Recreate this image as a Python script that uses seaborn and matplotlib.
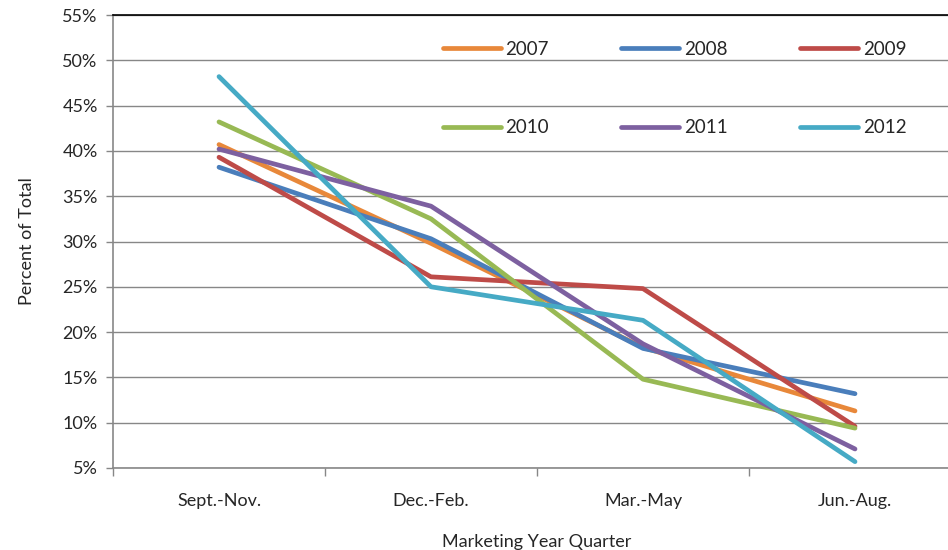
import pandas as pd
import matplotlib.pyplot as plt
import seaborn as sns
from matplotlib.ticker import FuncFormatter

# Quarter shares of marketing-year total (percent)
quarters = ["Sept.-Nov.", "Dec.-Feb.", "Mar.-May", "Jun.-Aug."]
years = ["2007", "2008", "2009", "2010", "2011", "2012"]
y2007 = [40.7, 29.8, 18.3, 11.3]
y2008 = [38.2, 30.3, 18.2, 13.2]
y2009 = [39.3, 26.1, 24.8, 9.6]
y2010 = [43.2, 32.5, 14.8, 9.4]
y2011 = [40.2, 33.9, 18.7, 7.1]
y2012 = [48.2, 25.0, 21.3, 5.7]
colors = ["#E8883A", "#4A7EBB", "#BE4B48", "#98B954", "#7D60A0", "#46AAC5"]

rows = []
for yr, vals in zip(years, [y2007, y2008, y2009, y2010, y2011, y2012]):
    for i, v in enumerate(vals):
        rows.append({"Year": yr, "pos": i, "Quarter": quarters[i], "Pct": v})
df = pd.DataFrame(rows)

sns.set_style("white")
plt.rcParams["font.family"] = ["Lato", "DejaVu Sans"]

fig = plt.figure(figsize=(9.48, 5.5), dpi=100)
ax = fig.add_axes([113 / 948, 1 - 468 / 550, 848 / 948, 453 / 550])

sns.lineplot(data=df, x="pos", y="Pct", hue="Year", palette=colors,
             linewidth=3.4, ax=ax, solid_capstyle="round", sort=False)

ax.set_xlim(-0.5, 3.5)
ax.set_ylim(5, 55)
ax.set_yticks(range(5, 60, 5))
ax.yaxis.set_major_formatter(FuncFormatter(lambda v, p: f"{int(v)}%"))
ax.set_xticks([0, 1, 2, 3])
ax.set_xticklabels(quarters)
ax.set_xticks([-0.5, 0.5, 1.5, 2.5, 3.5], minor=True)
ax.tick_params(axis="x", which="major", length=0, pad=18, labelsize=13)
ax.tick_params(axis="x", which="minor", length=6, color="#878787", width=1)
ax.tick_params(axis="y", length=5, color="#878787", width=1, labelsize=13, pad=6)
ax.yaxis.set_ticks_position("left")
ax.xaxis.set_ticks_position("bottom")
ax.grid(axis="y", color="#878787", linewidth=1)
ax.set_axisbelow(True)

for s in ["left", "bottom"]:
    ax.spines[s].set_color("#878787")
    ax.spines[s].set_linewidth(1.2)
ax.spines["top"].set_color("black")
ax.spines["top"].set_linewidth(1.2)
ax.spines["right"].set_visible(False)

ax.set_xlabel("Marketing Year Quarter", fontsize=13, labelpad=18)
ax.set_ylabel("Percent of Total", fontsize=13, labelpad=20)

# legend fills column-wise, so reorder to read 2007-2009 on the first row
h, l = ax.get_legend_handles_labels()
order = [0, 3, 1, 4, 2, 5]
ax.legend([h[i] for i in order], [l[i] for i in order],
          loc="upper left", bbox_to_anchor=(322 / 848, 0.96), ncol=3,
          frameon=False, fontsize=13.5, handlelength=3.1, handletextpad=0.25,
          columnspacing=3.85, labelspacing=3.3, borderaxespad=0)

fig.savefig("out.png", dpi=100)
